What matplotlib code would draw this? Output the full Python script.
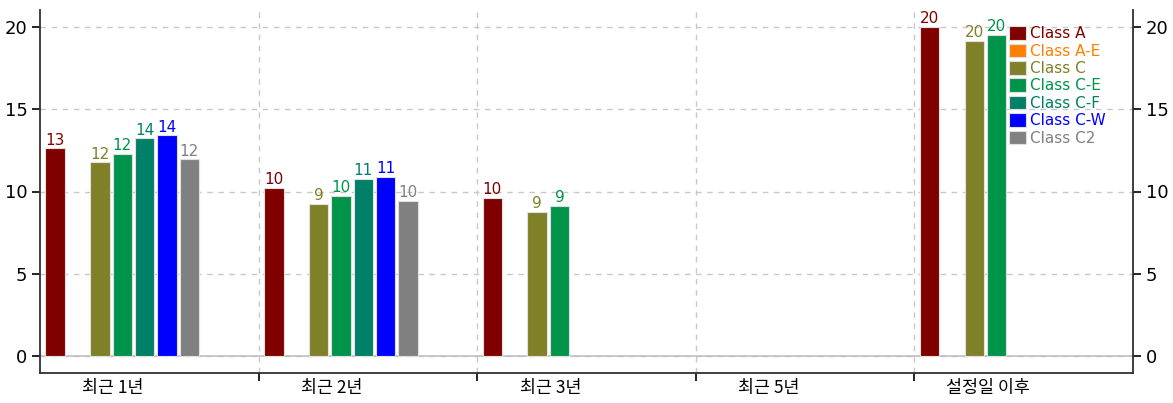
import numpy as np
import matplotlib
matplotlib.use("Agg")
import matplotlib.pyplot as plt
from matplotlib.patches import Patch

plt.rcParams['font.family'] = ['Noto Sans CJK KR', 'DejaVu Sans']

# Data
categories = ['최근 1년', '최근 2년', '최근 3년', '최근 5년', '설정일 이후']
classes = ['Class A', 'Class A-E', 'Class C', 'Class C-E', 'Class C-F', 'Class C-W', 'Class C2']
colors = ['#800000', '#ff8000', '#808028', '#00934a', '#008066', '#0000ff', '#808080']
nan = np.nan
class_a = [12.62, 10.20, 9.61, nan, 20.00]
class_ae = [nan, nan, nan, nan, nan]
class_c = [11.77, 9.25, 8.78, nan, 19.15]
class_ce = [12.26, 9.71, 9.13, nan, 19.53]
class_cf = [13.23, 10.79, nan, nan, nan]
class_cw = [13.41, 10.89, nan, nan, nan]
class_c2 = [11.95, 9.43, nan, nan, nan]
series = [class_a, class_ae, class_c, class_ce, class_cf, class_cw, class_c2]
# value labels as printed on the chart
lab_a = [13, 10, 10, None, 20]
lab_ae = [None, None, None, None, None]
lab_c = [12, 9, 9, None, 20]
lab_ce = [12, 10, 9, None, 20]
lab_cf = [14, 11, None, None, None]
lab_cw = [14, 11, None, None, None]
lab_c2 = [12, 10, None, None, None]
labels = [lab_a, lab_ae, lab_c, lab_ce, lab_cf, lab_cw, lab_c2]

fig = plt.figure(figsize=(11.73, 4.03), dpi=100)
ax = fig.add_axes([40/1173, 1 - 373/403, 1093/1173, 363/403])

x = np.arange(len(categories))
step = 0.1023
width = 0.089
offset = 0.025

for i, (vals, labs) in enumerate(zip(series, labels)):
    pos = x + offset + i * step
    v = np.array(vals, dtype=float)
    ok = ~np.isnan(v)
    ax.bar(pos[ok], v[ok], width=width, align='edge', color=colors[i],
           edgecolor='#e0e0e0', linewidth=0.8, zorder=3)
    for p, val, lb in zip(pos, v, labs):
        if lb is not None and not np.isnan(val):
            ax.text(p + width/2, val + 0.05, str(lb), ha='center', va='bottom',
                    color=colors[i], fontsize=11, family='DejaVu Sans', zorder=4)

ax.set_xlim(0, len(categories))
ax.set_ylim(-1.03, 21.03)
ax.set_yticks([0, 5, 10, 15, 20])
ax.set_xticks([1, 2, 3, 4])
ax.set_xticklabels([])
ax.set_xticks(x + 0.335, minor=True)
ax.set_xticklabels(categories, minor=True, fontsize=12.5)
ax.tick_params(axis='x', which='minor', length=0, pad=4)
ax.tick_params(axis='x', which='major', length=6, direction='out', width=1.2)
ax.tick_params(axis='y', which='major', length=6, direction='out', width=1.2,
               right=True, labelright=True, labelsize=13, pad=3)
for t in ax.get_yticklabels():
    t.set_family('DejaVu Sans')

ax.grid(axis='both', which='major', linestyle=(0, (4, 4)), color='#c8c8c8', linewidth=1, zorder=0)
ax.axhline(0, color='#c0c0c0', linewidth=1.2, zorder=2)
ax.spines['top'].set_visible(False)
for s in ['left', 'right', 'bottom']:
    ax.spines[s].set_linewidth(1.3)
    ax.spines[s].set_color('#303030')

handles = [Patch(facecolor=c, edgecolor='#e0e0e0', linewidth=0.8) for c in colors]
leg = ax.legend(handles, classes, loc='upper left', bbox_to_anchor=(0.887, 0.955),
                frameon=False, borderaxespad=0, borderpad=0, handlelength=1.1,
                handleheight=1.0, handletextpad=0.25, labelspacing=0.15,
                prop={'family': 'DejaVu Sans', 'size': 11})
for t, c in zip(leg.get_texts(), colors):
    t.set_color(c)

fig.savefig('out.png', dpi=100)
